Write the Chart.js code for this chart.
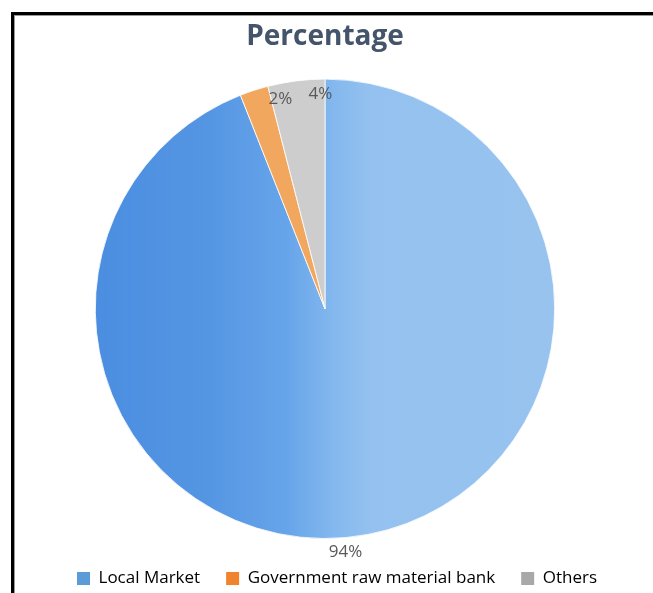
<!DOCTYPE html>
<html>
<head>
<meta charset="utf-8">
<script src="https://cdn.jsdelivr.net/npm/chart.js@4/dist/chart.umd.min.js"></script>
<style>
    html, body { margin: 0; padding: 0; background: #fff; }
    #wrap { position: relative; width: 653px; height: 593px; overflow: hidden; }
    #frame {
        position: absolute; left: 11px; top: 12px; width: 700px; height: 700px;
        border-top: 3px solid #000; border-left: 3px solid #000;
        box-shadow: inset 1px 1px 0 #9a9a9a;
        pointer-events: none;
    }
</style>
</head>
<body>
<div id="wrap">
    <canvas id="pieChart" width="653" height="593"></canvas>
    <div id="frame"></div>
</div>
<script>
// --- data ---
const categories = ["Local Market", "Government raw material bank", "Others"];
const percentages = [94, 2, 4];

// swatch colours in the legend, and the lighter fills used on the slices
const legendColors = ["#5b9bd8", "#f0832e", "#a8a8a8"];
const sliceColors = ["#6fa9e8", "#f2a75e", "#cdcdcd"];

// horizontal shading across the big slice, darker on the left
function blueShade(chart) {
    const area = chart.chartArea;
    if (!area) return sliceColors[0];
    const r = Math.min(area.right - area.left, area.bottom - area.top) / 2;
    const cx = (area.left + area.right) / 2;
    const g = chart.ctx.createLinearGradient(cx - r, 0, cx + r, 0);
    g.addColorStop(0, "#4b8de0");
    g.addColorStop(0.25, "#5596e3");
    g.addColorStop(0.42, "#67a5ea");
    g.addColorStop(0.52, "#84b8ee");
    g.addColorStop(0.6, "#94c1ef");
    g.addColorStop(1, "#98c3ef");
    return g;
}

// percentage text on each slice
const sliceLabels = {
    id: "sliceLabels",
    afterDatasetsDraw(chart, args, opts) {
        const ctx = chart.ctx;
        const meta = chart.getDatasetMeta(0);
        ctx.save();
        ctx.font = "17px 'Open Sans'";
        ctx.fillStyle = "#595959";
        ctx.textAlign = "center";
        ctx.textBaseline = "middle";
        meta.data.forEach((arc, i) => {
            const p = arc.getProps(["x", "y", "startAngle", "endAngle", "outerRadius"], true);
            const mid = (p.startAngle + p.endAngle) / 2 + opts.shift * Math.PI / 180;
            const f = percentages[i] > 50 ? opts.outside : opts.inside;
            ctx.fillText(percentages[i] + "%",
                p.x + Math.cos(mid) * p.outerRadius * f,
                p.y + Math.sin(mid) * p.outerRadius * f);
        });
        ctx.restore();
    }
};

// nudge the legend box after layout so it sits a little lower and right
const legendNudge = {
    id: "legendNudge",
    afterLayout(chart, args, opts) {
        const lg = chart.legend;
        if (!lg) return;
        lg.left += opts.dx; lg.right += opts.dx;
        lg.top += opts.dy; lg.bottom += opts.dy;
    }
};

const ctx = document.getElementById("pieChart").getContext("2d");
const chart = new Chart(ctx, {
    type: "pie",
    data: {
        labels: categories,
        datasets: [{
            data: percentages,
            backgroundColor: (c) => c.dataIndex === 0 ? blueShade(c.chart) : sliceColors[c.dataIndex],
            borderColor: "rgba(255,255,255,0.8)",
            borderWidth: 1
        }]
    },
    options: {
        responsive: false,
        animation: false,
        layout: { padding: { top: 10, bottom: 1, left: 0, right: 3 } },
        plugins: {
            title: {
                display: true,
                text: "Percentage",
                color: "#44546a",
                font: { family: "'Open Sans'", size: 28, weight: "bold" },
                padding: { top: 10, bottom: 25 }
            },
            legend: {
                position: "bottom",
                labels: {
                    color: "#595959",
                    font: { family: "'Open Sans'", size: 17 },
                    boxWidth: 13,
                    boxHeight: 13,
                    padding: 26,
                    generateLabels: (c) => categories.map((name, i) => ({
                        text: name,
                        fillStyle: legendColors[i],
                        strokeStyle: legendColors[i],
                        lineWidth: 0,
                        index: i
                    }))
                }
            },
            tooltip: { enabled: false },
            sliceLabels: { shift: 6, inside: 0.935, outside: 1.065 },
            legendNudge: { dx: 12, dy: 5 }
        }
    },
    plugins: [sliceLabels, legendNudge]
});
</script>
</body>
</html>
